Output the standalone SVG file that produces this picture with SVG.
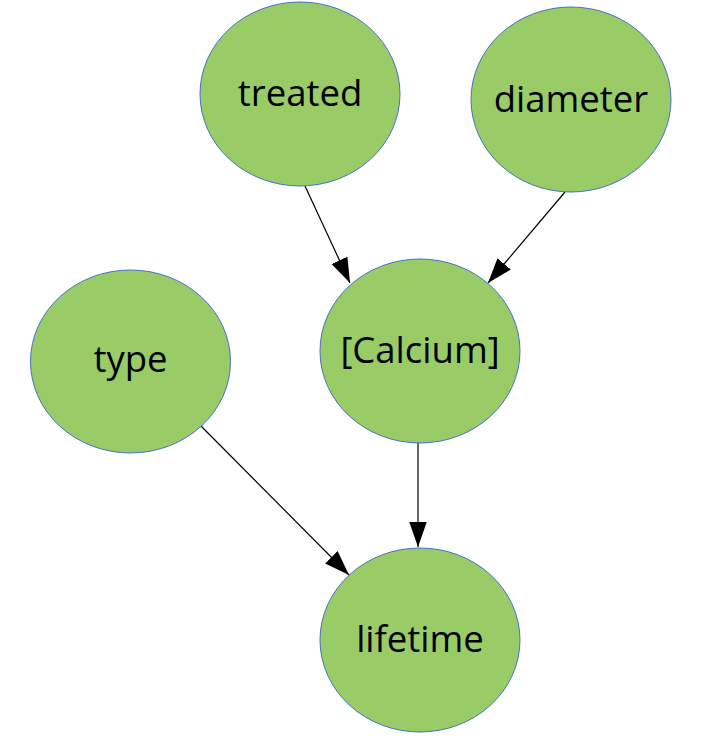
<svg xmlns="http://www.w3.org/2000/svg" width="705" height="745" viewBox="0 0 705 745">
<style>
.node ellipse{fill:#99CC66;stroke:#4472C4;stroke-width:1}
.node text{font-family:"Open Sans","Noto Sans","DejaVu Sans",sans-serif;font-size:36.5px;fill:#000;text-anchor:middle}
.edges line{stroke:#000;stroke-width:1.2;marker-end:url(#arr)}
</style>
<defs>
<marker id="arr" markerUnits="userSpaceOnUse" markerWidth="27" markerHeight="18" refX="25" refY="8.75" orient="auto">
<path d="M0,0 L25,8.75 L0,17.5 z" fill="#000"/>
</marker>
</defs>
<rect width="705" height="745" fill="#fff"/>
<g class="edges">
<line x1="305" y1="186" x2="350" y2="283"/>
<line x1="565" y1="192" x2="488" y2="283"/>
<line x1="198" y1="423" x2="349" y2="575"/>
<line x1="418" y1="443" x2="418" y2="547"/>
</g>
<g id="treated" class="node"><ellipse cx="300" cy="94" rx="100" ry="92"/><text x="300" y="106">treated</text></g>
<g id="diameter" class="node"><ellipse cx="571" cy="99.5" rx="100" ry="92.5"/><text x="571" y="112">diameter</text></g>
<g id="type" class="node"><ellipse cx="130.5" cy="361.5" rx="100" ry="91.5"/><text x="130.5" y="372">type</text></g>
<g id="calcium" class="node"><ellipse cx="420" cy="351" rx="100" ry="92"/><text x="420" y="363">[Calcium]</text></g>
<g id="lifetime" class="node"><ellipse cx="420" cy="640" rx="100" ry="92"/><text x="420" y="652">lifetime</text></g>
</svg>
